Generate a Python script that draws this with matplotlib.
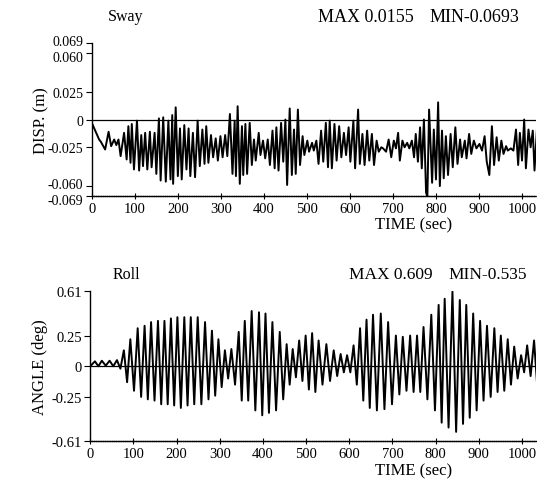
import matplotlib
matplotlib.use('agg')
import matplotlib.pyplot as plt
import matplotlib.transforms as mtransforms

plt.rcParams['font.family'] = ['Liberation Serif', 'DejaVu Serif']

##################
# Data read off  #
##################

# sway: successive extremes (time in sec, displacement in m)
sway_t = [0, 17, 21, 31, 39, 45, 52, 57, 62, 67, 75, 81, 85, 90, 93, 98, 105, 110,
          115, 119, 124, 129, 135, 139, 146, 150, 156, 160, 166, 172, 178, 183,
          187, 189, 195, 200, 205, 209, 215, 220, 225, 229, 235, 240, 246, 251,
          257, 262, 266, 271, 277, 282, 288, 293, 299, 304, 310, 315, 321, 327,
          332, 335, 339, 344, 349, 352, 357, 361, 367, 372, 377, 381, 388, 392,
          398, 403, 409, 414, 420, 425, 429, 434, 440, 445, 450, 454, 460, 465,
          470, 474, 479, 484, 490, 494, 501, 505, 512, 516, 522, 527, 533, 538,
          544, 549, 553, 558, 564, 569, 575, 580, 586, 591, 597, 601, 608, 612,
          619, 623, 629, 634, 640, 645, 651, 656, 662, 667, 673, 677, 684, 690,
          696, 702, 707, 712, 716, 722, 727, 733, 738, 744, 749, 753, 758, 763,
          767, 772, 777, 780, 784, 791, 795, 800, 805, 809, 814, 818, 823, 828,
          834, 839, 845, 850, 856, 860, 867, 871, 877, 882, 888, 894, 901, 907,
          913, 918, 924, 930, 935, 941, 946, 952, 957, 963, 967, 974, 980, 986,
          991, 995, 1000, 1005, 1009, 1015, 1020, 1025, 1029, 1036]
sway_v = [-0.003, -0.018, -0.020, -0.027, -0.011, -0.024, -0.018, -0.023, -0.018,
          -0.033, -0.012, -0.036, -0.006, -0.039, -0.004, -0.045, -0.001, -0.046,
          -0.014, -0.042, -0.012, -0.045, -0.011, -0.043, -0.012, -0.049, 0.001,
          -0.055, 0.002, -0.056, -0.001, -0.054, 0.004, -0.058, 0.011, -0.051,
          -0.008, -0.054, -0.005, -0.045, -0.008, -0.051, -0.012, -0.052, -0.001,
          -0.042, -0.009, -0.040, -0.006, -0.039, -0.014, -0.034, -0.017, -0.037,
          -0.015, -0.034, -0.014, -0.033, 0.005, -0.049, -0.001, -0.051, 0.012,
          -0.058, -0.006, -0.050, -0.004, -0.049, -0.003, -0.041, -0.018, -0.037,
          -0.012, -0.032, -0.019, -0.035, -0.018, -0.041, -0.010, -0.044, -0.007,
          -0.046, -0.003, -0.038, 0.000, -0.059, 0.010, -0.050, -0.009, -0.049,
          0.009, -0.041, -0.015, -0.032, -0.019, -0.029, -0.021, -0.028, -0.019,
          -0.040, -0.010, -0.038, -0.003, -0.043, -0.001, -0.044, -0.004, -0.037,
          -0.006, -0.034, -0.012, -0.032, -0.007, -0.038, -0.001, -0.044, 0.009,
          -0.040, -0.013, -0.041, -0.010, -0.037, -0.013, -0.041, -0.019, -0.029,
          -0.025, -0.026, -0.029, -0.018, -0.034, -0.019, -0.026, -0.012, -0.037,
          -0.019, -0.025, -0.021, -0.026, -0.019, -0.034, -0.013, -0.038, -0.007,
          -0.044, 0.000, -0.066, -0.0693, 0.009, -0.057, -0.009, -0.054, 0.0155,
          -0.060, -0.010, -0.053, -0.015, -0.050, -0.013, -0.043, -0.007, -0.040,
          -0.018, -0.034, -0.019, -0.035, -0.013, -0.031, -0.019, -0.026, -0.022,
          -0.028, -0.015, -0.038, -0.050, -0.006, -0.041, -0.016, -0.037, -0.019,
          -0.031, -0.024, -0.028, -0.026, -0.028, -0.009, -0.041, -0.012, -0.037,
          0.000, -0.044, -0.009, -0.025, -0.010, -0.046, 0.000]

# roll: crest times (sec), crest and following trough values (deg)
roll_t = [11, 27, 45, 62, 78, 93, 110, 126, 141, 157, 172, 187, 202, 218, 233,
          249, 266, 282, 297, 312, 327, 344, 358, 374, 391, 406, 422, 439, 455,
          469, 484, 499, 514, 529, 547, 564, 580, 595, 610, 625, 640, 655, 673,
          690, 708, 724, 741, 757, 772, 790, 807, 821, 839, 856, 871, 887, 903,
          919, 936, 951, 967, 982, 998, 1012, 1028]
roll_hi = [0.04, 0.045, 0.045, 0.05, 0.13, 0.22, 0.31, 0.33, 0.36, 0.37, 0.37,
           0.39, 0.40, 0.40, 0.40, 0.40, 0.36, 0.29, 0.22, 0.13, 0.14, 0.28, 0.37,
           0.45, 0.44, 0.43, 0.36, 0.28, 0.18, 0.14, 0.21, 0.25, 0.27, 0.21, 0.18,
           0.13, 0.10, 0.09, 0.17, 0.31, 0.38, 0.42, 0.43, 0.36, 0.25, 0.24, 0.25,
           0.25, 0.32, 0.42, 0.50, 0.55, 0.609, 0.54, 0.50, 0.43, 0.37, 0.33, 0.31,
           0.25, 0.22, 0.16, 0.09, 0.17, 0.21]
roll_lo = [0.0, 0.005, 0.0, -0.02, -0.13, -0.20, -0.25, -0.27, -0.28, -0.31, -0.31,
           -0.32, -0.34, -0.32, -0.31, -0.31, -0.27, -0.24, -0.17, -0.10, -0.15,
           -0.28, -0.28, -0.36, -0.40, -0.38, -0.36, -0.27, -0.15, -0.09, -0.12,
           -0.19, -0.21, -0.15, -0.12, -0.08, -0.05, -0.05, -0.15, -0.28, -0.34,
           -0.36, -0.35, -0.31, -0.23, -0.20, -0.21, -0.21, -0.27, -0.36, -0.46,
           -0.50, -0.535, -0.47, -0.42, -0.36, -0.28, -0.25, -0.21, -0.20, -0.15,
           -0.10, -0.05, -0.08, -0.17]

sway_yticks = [0.069, 0.060, 0.025, 0, -0.025, -0.060, -0.069]
sway_ylabels = ['0.069', '0.060', '0.025', '0', '-0.025', '-0.060', '-0.069']
roll_yticks = [0.61, 0.25, 0, -0.25, -0.61]
roll_ylabels = ['0.61', '0.25', '0', '-0.25', '-0.61']
xticks = list(range(0, 1001, 100))

# roll line: crest, then trough half way to next crest
rt = [0]
rv = [0.0]
for i in range(len(roll_t)):
    nxt = roll_t[i + 1] if i + 1 < len(roll_t) else roll_t[i] + 15
    rt += [roll_t[i], (roll_t[i] + nxt) / 2]
    rv += [roll_hi[i], roll_lo[i]]

fig = plt.figure(figsize=(5.4, 4.89), dpi=100)
ax1 = fig.add_axes([0.170, 0.597, 0.823, 0.313])
ax2 = fig.add_axes([0.167, 0.096, 0.826, 0.306])


def style(ax, yt, yl, ylab, xlab_y):
    ax.set_xlim(0, 1033)
    ax.set_ylim(yt[-1], yt[0])
    ax.set_yticks(yt)
    ax.set_yticklabels(yl)
    ax.set_xticks(xticks)
    ax.spines['top'].set_visible(False)
    ax.spines['right'].set_visible(False)
    ax.spines['left'].set_linewidth(1.0)
    ax.spines['bottom'].set_linewidth(1.0)
    ax.spines['bottom'].set_linestyle((0, (1, 0.6)))
    ax.tick_params(axis='y', direction='out', length=4, labelsize=10.5, pad=2)
    ax.tick_params(axis='x', direction='inout', length=5, labelsize=10.5, pad=2)
    ax.axhline(0, color='black', lw=0.9)
    ax.set_ylabel(ylab, fontsize=12)
    ax.yaxis.set_label_coords(-0.095, 0.5)
    ax.set_xlabel('TIME (sec)', fontsize=12)
    ax.xaxis.set_label_coords(0.725, xlab_y)


ax1.plot(sway_t, sway_v, color='black', lw=1.4)
style(ax1, sway_yticks, sway_ylabels, 'DISP. (m)', -0.13)

ax2.plot(rt, rv, color='black', lw=1.4)
style(ax2, roll_yticks, roll_ylabels, 'ANGLE (deg)', -0.145)

# the close pairs of tick labels at the ends of the sway axis
labs = ax1.get_yticklabels()
up = mtransforms.ScaledTranslation(0, 2 / 72, fig.dpi_scale_trans)
down = mtransforms.ScaledTranslation(0, -2 / 72, fig.dpi_scale_trans)
labs[0].set_transform(labs[0].get_transform() + up)
labs[1].set_transform(labs[1].get_transform() + down)
labs[5].set_transform(labs[5].get_transform() + up)
labs[6].set_transform(labs[6].get_transform() + down)
for lab in labs:
    lab.set_fontsize(10)

fig.text(108 / 540, 1 - 17 / 489, 'Sway', fontsize=11.5, va='center')
fig.text(318 / 540, 1 - 18 / 489, 'MAX 0.0155', fontsize=13, va='center')
fig.text(430 / 540, 1 - 18 / 489, 'MIN-0.0693', fontsize=13, va='center')
fig.text(113 / 540, 1 - 275 / 489, 'Roll', fontsize=11.5, va='center')
fig.text(349 / 540, 1 - 275 / 489, 'MAX 0.609', fontsize=12.5, va='center')
fig.text(448 / 540, 1 - 275 / 489, 'MIN-0.535', fontsize=12.5, va='center')

plt.savefig('out.png', dpi=100)
